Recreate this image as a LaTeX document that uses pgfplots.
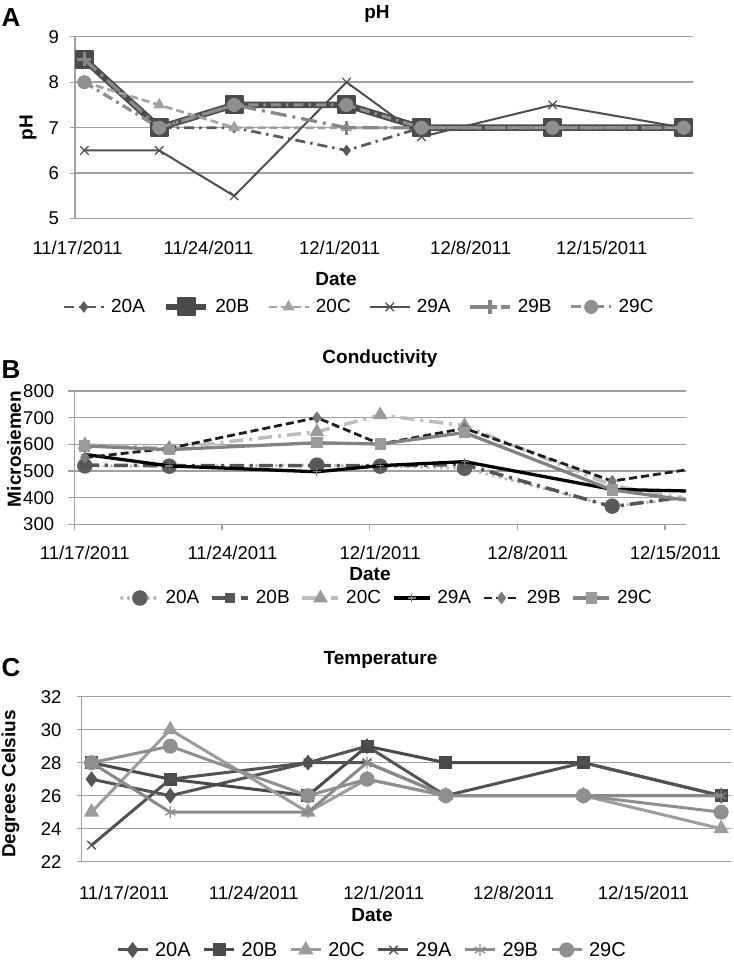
\documentclass[border=0pt]{standalone}
\usepackage{pgfplots}
\pgfplotsset{compat=1.18}
\usepackage{fontspec}
\setmainfont{Liberation Sans}
\usetikzlibrary{plotmarks}
\definecolor{gridc}{HTML}{A0A0A0}
\definecolor{aA}{HTML}{5A5A5A}
\definecolor{aB}{HTML}{4B4B4B}
\definecolor{aC}{HTML}{A3A3A3}
\definecolor{aD}{HTML}{4F4F4F}
\definecolor{aE}{HTML}{878787}
\definecolor{aF}{HTML}{8F8F8F}
\definecolor{bA}{HTML}{B8B8B8}
\definecolor{bAm}{HTML}{5F5F5F}
\definecolor{bB}{HTML}{565656}
\definecolor{bC}{HTML}{BDBDBD}
\definecolor{bCm}{HTML}{9A9A9A}
\definecolor{bD}{HTML}{000000}
\definecolor{bE}{HTML}{1E1E1E}
\definecolor{bEm}{HTML}{7A7A7A}
\definecolor{bF}{HTML}{828282}
\definecolor{tA}{HTML}{555555}
\definecolor{tB}{HTML}{4A4A4A}
\definecolor{tC}{HTML}{9C9C9C}
\definecolor{tD}{HTML}{525252}
\definecolor{tE}{HTML}{8A8A8A}
\definecolor{tF}{HTML}{8F8F8F}
\newcommand{\tickfont}{\fontsize{18.5bp}{20bp}\selectfont}
\newcommand{\labfont}{\fontsize{19bp}{21bp}\selectfont\bfseries}
\pgfplotsset{
  panel/.style={
    scale only axis, anchor=south west,
    axis x line*=bottom, axis y line*=left,
    axis line style={draw=gridc, line width=1.3bp, -},
    ymajorgrids, grid style={draw=gridc, line width=1.4bp},
    tick align=outside, major tick length=5bp,
    every tick/.style={draw=gridc, line width=1.3bp},
    tick label style={font=\tickfont},
    /pgf/number format/assume math mode=true,
    yticklabel style={anchor=east, inner sep=0bp},
    clip marker paths=true,
    legend columns=6,
    legend cell align=left,
    legend style={draw=none, fill=none, font=\fontsize{19bp}{21bp}\selectfont,
      anchor=center, inner sep=0bp,
      /tikz/every odd column/.append style={column sep=4bp},
      /tikz/every even column/.append style={column sep=16bp}},
    legend image code/.code={
      \draw[mark repeat=2,mark phase=2] plot coordinates {(0bp,0bp) (20bp,0bp) (40bp,0bp)};
    },
  },
}
\begin{document}
\begin{tikzpicture}
\path[use as bounding box] (0bp,0bp) rectangle (734bp,963bp);
% ---------------- Panel A ----------------
\node[font=\fontsize{26bp}{28bp}\selectfont\bfseries] at (11bp,945bp) {A};
\node[font=\labfont] at (377bp,949bp) {pH};
\node[font=\labfont] at (336bp,684bp) {Date};
\begin{axis}[panel,
  at={(75bp,744.3bp)}, width=618bp, height=182bp,
  xmin=-0.5, xmax=32.5, ymin=5, ymax=9, ytick={5,6,7,8,9},
  xtick={-0.37,6.63,13.63,20.63,27.63},
  xticklabels={11/17/2011,11/24/2011,12/1/2011,12/8/2011,12/15/2011},
  xtick style={draw=none}, xticklabel style={anchor=center, yshift=-24bp},
  yticklabel style={xshift=-11bp},
  ylabel={pH}, ylabel style={font=\labfont, at={(axis description cs:-0.076,0.5)}, anchor=center},
  legend style={at={(axis description cs:0.4595,-0.485)}},
]
\addplot[aA, line width=2.7bp, dash pattern=on 10bp off 5bp on 2.5bp off 5bp,
  mark=diamond*, mark size=5bp, mark options={solid, fill=aA, draw=aA, line width=1bp}]
  coordinates {(0,8) (4,7) (8,7) (14,6.5) (18,7) (25,7) (32,7)};
\addplot[aB, line width=6.5bp, line join=round,
  mark=square*, mark size=8.5bp, mark options={solid, fill=aB, draw=aB, line width=2bp, rounded corners=3bp}]
  coordinates {(0,8.5) (4,7) (8,7.5) (14,7.5) (18,7) (25,7) (32,7)};
\addplot[aC, line width=2.7bp, dash pattern=on 8bp off 4bp,
  mark=triangle*, mark size=6bp, mark options={solid, fill=aC, draw=aC, line width=1bp}]
  coordinates {(0,8) (4,7.5) (8,7) (14,7) (18,7) (25,7) (32,7)};
\addplot[aD, line width=2bp,
  mark=x, mark size=6bp, mark options={solid, draw=aD, line width=1.2bp}]
  coordinates {(0,6.5) (4,6.5) (8,5.5) (14,8) (18,6.8) (25,7.5) (32,7)};
\addplot[aE, line width=3.3bp, dash pattern=on 16bp off 6bp on 3bp off 6bp,
  mark=+, mark size=7bp, mark options={solid, draw=aE, line width=3.5bp}]
  coordinates {(0,8.5) (4,7) (8,7.5) (14,7) (18,7) (25,7) (32,7)};
\addplot[aF, line width=3bp, dash pattern=on 10bp off 5bp on 2.5bp off 5bp,
  mark=*, mark size=6.5bp, mark options={solid, fill=aF, draw=aF, line width=1bp}]
  coordinates {(0,8) (4,7) (8,7.5) (14,7.5) (18,7) (25,7) (32,7)};
\legend{20A,20B,20C,29A,29B,29C}
\end{axis}
% ---------------- Panel B ----------------
\node[font=\fontsize{26bp}{28bp}\selectfont\bfseries] at (11bp,593bp) {B};
\node[font=\labfont] at (380bp,604bp) {Conductivity};
\node[font=\labfont] at (370bp,388.5bp) {Date};
\begin{axis}[panel,
  at={(74.3bp,438.7bp)}, width=611.7bp, height=133.3bp,
  xmin=0, xmax=29, ymin=300, ymax=800, ytick={300,400,500,600,700,800},
  xtick={0,7,14,21,28},
  xticklabels={11/17/2011,11/24/2011,12/1/2011,12/8/2011,12/15/2011},
  xticklabel style={anchor=center, yshift=-22.7bp, xshift=10.5bp},
  yticklabel style={xshift=-14bp},
  major tick length=6bp,
  ylabel={Microsiemen}, ylabel style={font=\labfont, at={(axis description cs:-0.0986,0.565)}, anchor=center},
  legend style={at={(axis description cs:0.5112,-0.553)},
    /tikz/every even column/.append style={column sep=9bp}},
  legend image code/.code={
      \draw[mark repeat=2,mark phase=2] plot coordinates {(0bp,0bp) (18bp,0bp) (36bp,0bp)};
  },
]
\addplot[bA, line width=3.5bp, line cap=round, dash pattern=on 0.1bp off 6.5bp,
  mark=*, mark size=6bp, mark options={solid, fill=bAm, draw=bAm}]
  coordinates {(0.5,519) (4.5,518) (11.5,522) (14.5,518) (18.5,510) (25.5,368) (32.5,426)};
\addplot[bB, line width=3.5bp, dash pattern=on 14bp off 6bp on 3bp off 6bp,
  mark=square*, mark size=3bp, mark options={solid, fill=bB, draw=bB}]
  coordinates {(0.5,522) (4.5,520) (11.5,520) (14.5,520) (18.5,524) (25.5,366) (32.5,442)};
\addplot[bC, line width=3.5bp, dash pattern=on 14bp off 6bp on 3bp off 6bp,
  mark=triangle*, mark size=5bp, mark options={solid, fill=bCm, draw=bCm}]
  coordinates {(0.5,598) (4.5,585) (11.5,647) (14.5,710) (18.5,670) (25.5,446) (32.5,344)};
\addplot[bD, line width=3.3bp,
  mark=+, mark size=4bp, mark options={solid, draw=bEm, line width=1.2bp}]
  coordinates {(0.5,562) (4.5,519) (11.5,497) (14.5,520) (18.5,535) (25.5,431) (32.5,419)};
\addplot[bE, line width=2.8bp, dash pattern=on 8bp off 4bp,
  mark=diamond*, mark size=4bp, mark options={solid, fill=bEm, draw=bEm}]
  coordinates {(0.5,550) (4.5,585) (11.5,700) (14.5,601) (18.5,660) (25.5,462) (32.5,546)};
\addplot[bF, line width=3.3bp,
  mark=square*, mark size=4bp, mark options={solid, fill=bCm, draw=bCm}]
  coordinates {(0.5,594) (4.5,580) (11.5,606) (14.5,601) (18.5,644) (25.5,429) (32.5,353)};
\legend{20A,20B,20C,29A,29B,29C}
\end{axis}
% ---------------- Panel C ----------------
\node[font=\fontsize{26bp}{28bp}\selectfont\bfseries] at (11bp,295bp) {C};
\node[font=\labfont] at (380.5bp,303bp) {Temperature};
\node[font=\labfont] at (372bp,48bp) {Date};
\begin{axis}[panel,
  at={(81.7bp,101.3bp)}, width=649.3bp, height=165bp,
  xmin=-0.5, xmax=32.5, ymin=22, ymax=32, ytick={22,24,26,28,30,32},
  xtick={1.65,8.25,14.85,21.45,28.05},
  xticklabels={11/17/2011,11/24/2011,12/1/2011,12/8/2011,12/15/2011},
  xtick style={draw=none}, xticklabel style={anchor=center, yshift=-26.3bp},
  yticklabel style={xshift=-15bp},
  ylabel={Degrees Celsius}, ylabel style={font=\labfont, at={(axis description cs:-0.1097,0.471)}, anchor=center},
  legend style={at={(axis description cs:0.447,-0.535)}, font=\fontsize{20bp}{22bp}\selectfont,
    /tikz/every even column/.append style={column sep=10bp}},
  legend image code/.code={
      \draw[mark repeat=2,mark phase=2] plot coordinates {(0bp,0bp) (15bp,0bp) (30bp,0bp)};
  },
]
\addplot[tA, line width=3bp, mark=diamond*, mark size=5.5bp, mark options={fill=tA, draw=tA}]
  coordinates {(0,27) (4,26) (11,28) (14,29) (18,26) (25,26) (32,26)};
\addplot[tB, line width=3bp, mark=square*, mark size=5bp, mark options={fill=tB, draw=tB}]
  coordinates {(0,28) (4,27) (11,26) (14,29) (18,28) (25,28) (32,26)};
\addplot[tC, line width=3bp, mark=triangle*, mark size=6bp, mark options={fill=tC, draw=tC}]
  coordinates {(0,25) (4,30) (11,25) (14,27) (18,26) (25,26) (32,24)};
\addplot[tD, line width=3bp, mark=x, mark size=6bp, mark options={draw=tD, line width=1.3bp}]
  coordinates {(0,23) (4,27) (11,28) (14,28) (18,26) (25,28) (32,26)};
\addplot[tE, line width=3bp, mark=asterisk, mark size=6bp, mark options={draw=tE, line width=1.2bp}]
  coordinates {(0,28) (4,25) (11,25) (14,28) (18,26) (25,26) (32,26)};
\addplot[tF, line width=3bp, mark=*, mark size=6bp, mark options={fill=tF, draw=tF}]
  coordinates {(0,28) (4,29) (11,26) (14,27) (18,26) (25,26) (32,25)};
\legend{20A,20B,20C,29A,29B,29C}
\end{axis}
\end{tikzpicture}
\end{document}
